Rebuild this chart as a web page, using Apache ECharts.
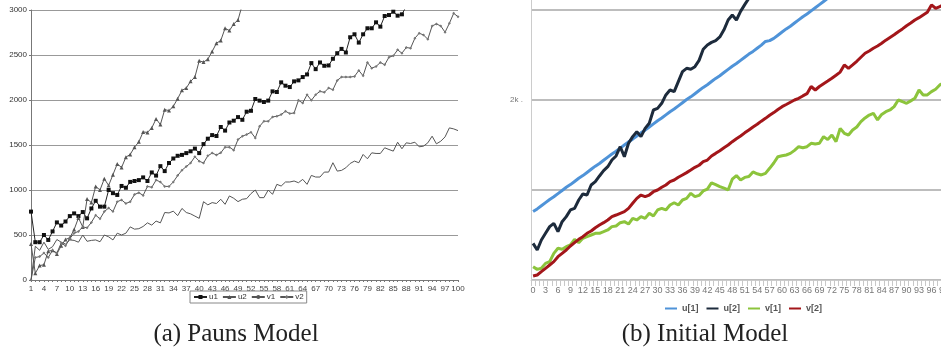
<!DOCTYPE html>
<html><head><meta charset="utf-8">
<script src="https://cdn.jsdelivr.net/npm/echarts@6/dist/echarts.min.js"></script>
<style>html,body{margin:0;padding:0;background:#fff;overflow:hidden}#c{width:960px;height:356px}</style>
</head><body><div id="c"></div>
<script>
// ---- (a) Pauns Model ----
const leftCats = [1,2,3,4,5,6,7,8,9,10,11,12,13,14,15,16,17,18,19,20,21,22,23,24,25,26,27,28,29,30,31,32,33,34,35,36,37,38,39,40,41,42,43,44,45,46,47,48,49,50,51,52,53,54,55,56,57,58,59,60,61,62,63,64,65,66,67,68,69,70,71,72,73,74,75,76,77,78,79,80,81,82,83,84,85,86,87,88,89,90,91,92,93,94,95,96,97,98,99,100];
const leftYTicks = [0,500,1000,1500,2000,2500,3000];
const pU1 = [760,420,420,500,445,540,640,605,650,710,
  740,710,755,685,795,880,815,815,1000,965,
  945,1045,1025,1090,1100,1110,1140,1100,1195,1160,
  1265,1210,1300,1350,1380,1390,1410,1430,1460,1410,
  1510,1570,1610,1600,1700,1660,1750,1770,1810,1780,
  1870,1880,2011,1993,1978,1993,2096,2089,2196,2159,
  2144,2207,2218,2255,2284,2410,2343,2417,2380,2384,
  2458,2520,2568,2528,2697,2730,2638,2730,2797,2797,
  2863,2815,2933,2944,2981,2937,2952,3040,null,null,
  null,null,null,null,null,null,null,null,null,null];
const pU2 = [400,75,160,170,320,330,290,380,450,470,
  560,690,590,900,860,1040,1000,1125,1050,1170,
  1290,1250,1365,1395,1475,1535,1645,1640,1690,1790,
  1727,1893,1882,1930,2015,2107,2133,2207,2255,2435,
  2421,2454,2539,2631,2661,2797,2771,2845,2889,3060,
  null,null,null,null,null,null,null,null,null,null,
  null,null,null,null,null,null,null,null,null,null,
  null,null,null,null,null,null,null,null,null,null,
  null,null,null,null,null,null,null,null,null,null,
  null,null,null,null,null,null,null,null,null,null];
const pV1 = [0,375,330,420,340,370,450,420,400,445,
  440,420,500,430,440,445,425,500,480,445,
  520,500,520,590,565,570,595,635,610,655,
  635,750,745,765,715,795,750,735,710,685,
  870,835,860,850,897,841,934,908,871,897,
  904,960,1000,915,915,1000,952,1063,1044,1089,
  1089,1100,1081,1118,1063,1162,1144,1144,1199,1199,
  1303,1210,1218,1247,1295,1321,1303,1395,1347,1413,
  1406,1406,1469,1450,1432,1531,1458,1524,1517,1531,
  1480,1487,1524,1598,1513,1542,1590,1690,1679,1660];
const pV2 = [0,250,260,300,250,330,300,410,380,460,
  520,540,590,580,640,720,680,760,800,760,
  870,890,850,870,950,970,940,1040,1030,1110,
  1090,1040,1040,1090,1160,1220,1260,1300,1370,1320,
  1300,1380,1410,1390,1413,1476,1476,1443,1561,1598,
  1616,1642,1579,1708,1764,1764,1812,1819,1838,1875,
  1849,1856,1996,1967,2059,1996,2059,2096,2085,2133,
  2114,2218,2255,2255,2255,2262,2328,2269,2417,2354,
  2373,2417,2391,2476,2491,2557,2520,2583,2576,2686,
  2742,2723,2675,2823,2845,2823,2753,2852,2963,2926];

// ---- (b) Initial Model ----
const rightCats = [0,1,2,3,4,5,6,7,8,9,10,11,12,13,14,15,16,17,18,19,20,21,22,23,24,25,26,27,28,29,30,31,32,33,34,35,36,37,38,39,40,41,42,43,44,45,46,47,48,49,50,51,52,53,54,55,56,57,58,59,60,61,62,63,64,65,66,67,68,69,70,71,72,73,74,75,76,77,78,79,80,81,82,83,84,85,86,87,88,89,90,91,92,93,94,95,96,97,98,99];
const rightYLabelled = [2000];
const iU1 = [760,790,825,860,895,925,960,995,1030,1060,
  1095,1130,1160,1195,1230,1265,1295,1330,1365,1400,
  1430,1465,1500,1535,1565,1600,1635,1665,1700,1735,
  1770,1800,1835,1870,1900,1935,1970,2005,2035,2070,
  2105,2140,2170,2205,2240,2270,2305,2340,2375,2405,
  2440,2475,2510,2540,2575,2610,2650,2660,2685,2720,
  2755,2790,2820,2855,2890,2925,2955,2990,3025,3060,
  3095,3130,3165,null,null,null,null,null,null,null,
  null,null,null,null,null,null,null,null,null,null,
  null,null,null,null,null,null,null,null,null,null];
const iU2 = [407,333,444,519,593,630,537,648,704,778,
  796,889,956,944,1056,1093,1156,1215,1259,1333,
  1378,1481,1370,1519,1593,1648,1593,1685,1741,1889,
  1907,1963,2056,2111,2093,2204,2315,2352,2341,2370,
  2440,2563,2611,2640,2660,2700,2780,2889,2944,2889,
  2985,3060,3130,3190,null,null,null,null,null,null,
  null,null,null,null,null,null,null,null,null,null,
  null,null,null,null,null,null,null,null,null,null,
  null,null,null,null,null,null,null,null,null,null,
  null,null,null,null,null,null,null,null,null,null];
const iV1 = [148,118,130,185,204,296,352,341,370,389,
  452,415,463,481,500,519,519,537,556,593,
  600,637,648,622,685,667,704,685,741,711,
  778,796,778,833,859,833,889,907,963,926,
  940,990,1010,1080,1060,1037,1020,1000,1120,1160,
  1111,1140,1150,1200,1180,1167,1185,1241,1300,1370,
  1380,1389,1407,1440,1481,1470,1481,1519,1510,1519,
  1593,1560,1611,1537,1685,1630,1611,1667,1700,1759,
  1800,1833,1852,1778,1840,1870,1889,1926,2000,1981,
  1963,1990,2019,2111,2056,2056,2093,2120,2167,2190];
const iV2 = [44,56,93,130,167,204,259,296,333,378,
  415,452,481,519,544,581,611,637,667,704,
  722,741,759,796,852,907,944,926,944,981,
  1000,1030,1056,1093,1111,1141,1167,1193,1222,1252,
  1275,1315,1333,1378,1407,1437,1470,1500,1537,1570,
  1600,1635,1667,1700,1730,1765,1796,1830,1860,1895,
  1926,1950,1975,2000,2019,2045,2070,2150,2111,2150,
  2180,2210,2241,2275,2310,2390,2352,2390,2430,2475,
  2519,2545,2575,2600,2630,2665,2695,2725,2759,2790,
  2825,2855,2889,2915,2945,2975,3056,3019,3037,3060];

const chart = echarts.init(document.getElementById('c'), null, {renderer:'canvas'});
const sans = 'Liberation Sans';
const rightMax = 3111;
const option = {
  animation:false,
  backgroundColor:'#fff',
  grid:[
    {left:31, top:10, width:427, height:270, containLabel:false},
    {left:531, top:0, width:415, height:280, containLabel:false}
  ],
  xAxis:[
    {gridIndex:0, type:'category', data:leftCats, boundaryGap:false,
      axisLine:{lineStyle:{color:'#777', width:1}},
      axisTick:{show:true, interval:0, length:2, lineStyle:{color:'#777'}},
      axisLabel:{interval:2, fontSize:8, color:'#444', fontFamily:sans, margin:5}},
    {gridIndex:1, type:'category', data:rightCats, boundaryGap:true,
      axisLine:{lineStyle:{color:'#ccc', width:1}},
      axisTick:{show:true, interval:0, length:6, lineStyle:{color:'#c8c8c8'}},
      axisLabel:{interval:2, fontSize:9, color:'#777', fontFamily:sans, margin:6}}
  ],
  yAxis:[
    {gridIndex:0, type:'value', min:leftYTicks[0], max:leftYTicks[leftYTicks.length-1], interval:500,
      axisLine:{show:true, lineStyle:{color:'#777'}},
      axisTick:{show:true, length:2, lineStyle:{color:'#777'}},
      axisLabel:{fontSize:8, color:'#333', fontFamily:sans, margin:4, formatter: v => String(v)},
      splitLine:{lineStyle:{color:'#999', width:1}}},
    {gridIndex:1, type:'value', min:0, max:rightMax, interval:1000,
      axisLine:{show:true, lineStyle:{color:'#ccc'}},
      axisTick:{show:false},
      axisLabel:{fontSize:8, color:'#777', fontFamily:sans, margin:8, showMaxLabel:false,
        formatter: v => rightYLabelled.indexOf(v) >= 0 ? (v/1000)+'k .' : ''},
      splitLine:{showMaxLine:false, lineStyle:{color:'#bdbdbd', width:2}}}
  ],
  legend:[
    {data:['u1','u2','v1','v2'], left:190, top:291, orient:'horizontal',
      borderColor:'#888', borderWidth:1, padding:[2,3], itemGap:4,
      itemWidth:13, itemHeight:5,
      textStyle:{fontSize:8, color:'#333', fontFamily:sans, padding:[0,0,0,-3]}},
    {data:['u[1]','u[2]','v[1]','v[2]'], left:660, top:299, orient:'horizontal',
      itemGap:8, itemWidth:12, itemHeight:2, icon:'rect',
      textStyle:{fontSize:9, color:'#555', fontWeight:'bold', fontFamily:sans}}
  ],
  series:[
    {name:'u1', type:'line', xAxisIndex:0, yAxisIndex:0, data:pU1, symbol:'rect', symbolSize:4, showSymbol:true, showAllSymbol:true,
      lineStyle:{color:'#222', width:1}, itemStyle:{color:'#111'}, connectNulls:false},
    {name:'u2', type:'line', xAxisIndex:0, yAxisIndex:0, data:pU2, symbol:'triangle', symbolSize:4, showSymbol:true, showAllSymbol:true,
      lineStyle:{color:'#555', width:1}, itemStyle:{color:'#555'}},
    {name:'v1', type:'line', xAxisIndex:0, yAxisIndex:0, data:pV1, symbol:'none', showSymbol:false,
      lineStyle:{color:'#555', width:1}, itemStyle:{color:'#555'}},
    {name:'v2', type:'line', xAxisIndex:0, yAxisIndex:0, data:pV2, symbol:'diamond', symbolSize:3, showSymbol:true, showAllSymbol:true,
      lineStyle:{color:'#555', width:1}, itemStyle:{color:'#777'}},
    {name:'u[1]', type:'line', xAxisIndex:1, yAxisIndex:1, data:iU1, showSymbol:false, symbol:'none',
      lineStyle:{color:'#4f93d8', width:3}, itemStyle:{color:'#4f93d8'}},
    {name:'u[2]', type:'line', xAxisIndex:1, yAxisIndex:1, data:iU2, showSymbol:false, symbol:'none',
      lineStyle:{color:'#1d2b3c', width:3}, itemStyle:{color:'#1d2b3c'}},
    {name:'v[1]', type:'line', xAxisIndex:1, yAxisIndex:1, data:iV1, showSymbol:false, symbol:'none',
      lineStyle:{color:'#8cc43c', width:3}, itemStyle:{color:'#8cc43c'}},
    {name:'v[2]', type:'line', xAxisIndex:1, yAxisIndex:1, data:iV2, showSymbol:false, symbol:'none',
      lineStyle:{color:'#a3161a', width:3}, itemStyle:{color:'#a3161a'}}
  ],
  graphic:[
    {type:'text', x:236, y:334, style:{text:'(a) Pauns Model', fontSize:25, fontFamily:'Liberation Serif', fill:'#222', align:'center', verticalAlign:'middle'}},
    {type:'text', x:705, y:334, style:{text:'(b) Initial Model', fontSize:25, fontFamily:'Liberation Serif', fill:'#222', align:'center', verticalAlign:'middle'}}
  ]
};
chart.setOption(option);
</script>
</body></html>
